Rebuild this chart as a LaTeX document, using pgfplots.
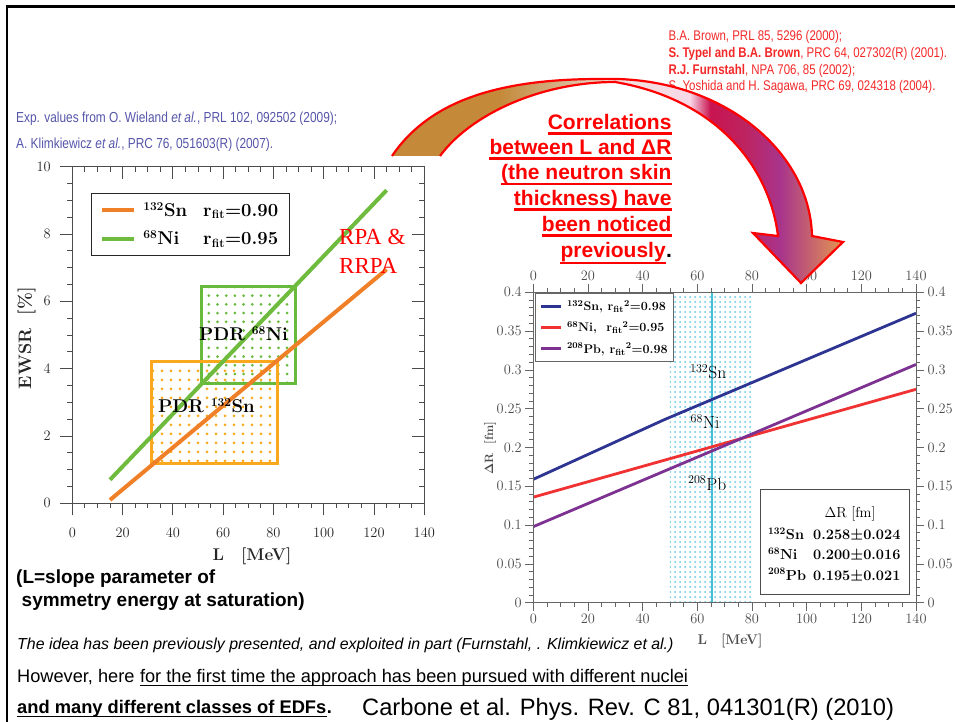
\documentclass[border=0pt]{standalone}
\usepackage{pgfplots}
\pgfplotsset{compat=1.18}
\usepackage{fontspec}
\usetikzlibrary{patterns.meta}
\newfontfamily\arial{Liberation Sans}
\newfontfamily\arialn[FakeStretch=0.82]{Liberation Sans}
\newfontfamily\timesf{Liberation Serif}

\definecolor{lnOrange}{RGB}{240,128,40}
\definecolor{lnGreen}{RGB}{110,187,62}
\definecolor{bxOrange}{RGB}{250,168,30}
\definecolor{bxGreen}{RGB}{104,186,60}
\definecolor{lnNavy}{RGB}{45,52,145}
\definecolor{lnRed}{RGB}{240,50,50}
\definecolor{lnPurple}{RGB}{125,50,145}
\definecolor{cyDot}{RGB}{100,200,232}
\definecolor{cyLine}{RGB}{70,190,215}
\definecolor{refBlue}{RGB}{85,85,170}
\definecolor{refRed}{RGB}{245,40,40}
\definecolor{arrB}{RGB}{196,138,58}
\definecolor{arrT}{RGB}{214,180,140}
\definecolor{arrW}{RGB}{240,226,222}
\definecolor{arrP}{RGB}{248,215,230}
\definecolor{arrC}{RGB}{200,20,80}
\definecolor{arrC2}{RGB}{190,35,95}
\definecolor{arrV}{RGB}{168,52,140}
\definecolor{arrO}{RGB}{228,150,80}
\pgfdeclarehorizontalshading{arrowshade}{100bp}{color(0bp)=(arrB); color(25bp)=(arrB); color(37bp)=(arrB); color(44bp)=(arrT); color(50bp)=(arrW); color(58bp)=(arrP); color(60.3bp)=(arrC); color(64bp)=(arrC2); color(68bp)=(arrV); color(75bp)=(arrO); color(100bp)=(arrO)}

\begin{document}
\begin{tikzpicture}
\path[use as bounding box, fill=white] (0pt,0pt) rectangle (955pt,-722pt);

% ---------------- left chart ----------------
\begin{axis}[
  at={(72.3pt,-503.3pt)}, anchor=south west, scale only axis,
  width=352pt, height=336.6pt,
  xmin=0, xmax=140, ymin=0, ymax=10,
  xtick={0,20,...,140}, ytick={0,2,...,10},
  minor x tick num=3, minor y tick num=3,
  tick align=outside, xtick pos=left, ytick pos=left,
  major tick length=12pt, minor tick length=5pt,
  axis line style={draw=black!70, line width=0.9pt},
  tick style={black!70, line width=0.9pt},
  tick label style={font=\fontsize{14.5}{15}\selectfont, text=black!85},
  xticklabel style={yshift=-9pt},
  yticklabel style={xshift=-6pt},
  legend style={at={(axis description cs:0.052,0.923)}, anchor=north west,
     draw=black!85, line width=1.3pt, fill=white, inner xsep=9pt, inner ysep=7pt,
     row sep=9pt, font=\bfseries\boldmath\fontsize{18.5}{18.5}\selectfont},
  legend cell align=left,
  legend image code/.code={\draw[#1] (0pt,0pt) -- (32pt,0pt);},
]
\addplot[draw=bxGreen, line width=3pt, line join=miter, pattern={Dots[distance=8.7pt,radius=1.5pt]}, pattern color=bxGreen, forget plot]
  coordinates {(51.2,3.55) (88.6,3.55) (88.6,6.45) (51.2,6.45)} -- cycle;
\addplot[draw=bxOrange, line width=3pt, line join=miter, pattern={Dots[distance=9pt,radius=1.5pt]}, pattern color=bxOrange, forget plot]
  coordinates {(31.6,1.17) (81.7,1.17) (81.7,4.2) (31.6,4.2)} -- cycle;
\addplot[lnOrange, line width=4pt] coordinates {(15,0.1) (125,6.95)};
\addlegendentry{\hspace{5pt}\makebox[60pt][l]{$^{\mathbf{132}}$Sn}r$_{\mathbf{fit}}$=0.90}
\addplot[lnGreen, line width=4pt] coordinates {(15,0.7) (125,9.3)};
\addlegendentry{\hspace{5pt}\makebox[60pt][l]{$^{\mathbf{68}}$Ni}r$_{\mathbf{fit}}$=0.95}
\end{axis}
\begin{axis}[
  at={(72.3pt,-503.3pt)}, anchor=south west, scale only axis,
  width=352pt, height=336.6pt,
  xmin=0, xmax=140, ymin=0, ymax=10,
  xtick={0,20,...,140}, ytick={0,2,...,10},
  minor x tick num=3, minor y tick num=3,
  tick align=inside, xtick pos=right, ytick pos=right,
  xticklabels={}, yticklabels={},
  major tick length=12pt, minor tick length=5pt,
  axis line style={draw=black!70, line width=0.9pt},
  tick style={black!70, line width=0.9pt},
]
\addplot[draw=none, forget plot] coordinates {(0,0)};
\end{axis}

% ---------------- right chart ----------------
\begin{axis}[
  at={(533.3pt,-602.7pt)}, anchor=south west, scale only axis,
  width=382.7pt, height=310.4pt,
  xmin=0, xmax=140, ymin=0, ymax=0.4,
  xtick={0,20,...,140}, ytick={0,0.05,0.1,0.15,0.2,0.25,0.3,0.35,0.4},
  scaled y ticks=false,
  yticklabel style={/pgf/number format/fixed, /pgf/number format/precision=2},
  minor x tick num=3, minor y tick num=4,
  tick align=outside, xtick pos=left, ytick pos=left,
  major tick length=8pt, minor tick length=4pt,
  axis line style={draw=black!60, line width=0.8pt},
  tick style={black!60, line width=0.8pt},
  tick label style={font=\fontsize{13.5}{14}\selectfont, text=black!70},
  legend style={at={(axis description cs:0.004,0.997)}, anchor=north west,
     draw=black!60, line width=0.8pt, fill=white, inner xsep=4pt, inner ysep=5pt,
     row sep=5.5pt, font=\bfseries\boldmath\fontsize{12.5}{12.5}\selectfont},
  legend cell align=left,
  legend image code/.code={\draw[#1] (0pt,0pt) -- (20pt,0pt);},
]
\addplot[draw=none, pattern={Dots[distance=5pt,radius=1pt]}, pattern color=cyDot, forget plot]
  coordinates {(50,0) (80.5,0) (80.5,0.4) (50,0.4)} -- cycle;
\addplot[cyLine, line width=1.8pt, forget plot] coordinates {(65.5,0) (65.5,0.4)};
\addplot[lnNavy, line width=2.8pt] coordinates {(0,0.159) (48,0.236) (140,0.373)};
\addlegendentry{\hspace{3pt}$^{132}$Sn, r$_{\mathbf{fit}}{}^{2}$=0.98}
\addplot[lnRed, line width=2.8pt] coordinates {(0,0.136) (140,0.275)};
\addlegendentry{\hspace{3pt}$^{68}$Ni,\ \ r$_{\mathbf{fit}}{}^{2}$=0.95}
\addplot[lnPurple, line width=2.8pt] coordinates {(0,0.098) (140,0.307)};
\addlegendentry{\hspace{3pt}$^{208}$Pb, r$_{\mathbf{fit}}{}^{2}$=0.98}
\end{axis}
\begin{axis}[
  at={(533.3pt,-602.7pt)}, anchor=south west, scale only axis,
  width=382.7pt, height=310.4pt,
  xmin=0, xmax=140, ymin=0, ymax=0.4,
  xtick={0,20,...,140}, ytick={0,0.05,0.1,0.15,0.2,0.25,0.3,0.35,0.4},
  scaled y ticks=false,
  yticklabel style={/pgf/number format/fixed, /pgf/number format/precision=2},
  minor x tick num=3, minor y tick num=4,
  tick align=outside, xtick pos=right, ytick pos=right,
  xticklabel pos=right, yticklabel pos=right,
  major tick length=8pt, minor tick length=4pt,
  axis line style={draw=black!60, line width=0.8pt},
  tick style={black!60, line width=0.8pt},
  tick label style={font=\fontsize{13.5}{14}\selectfont, text=black!70},
]
\addplot[draw=none, forget plot] coordinates {(0,0)};
\end{axis}

% ---------------- annotations (pixel coordinates) ----------------
\begin{scope}[x=1pt, y=-1pt, every node/.style={inner sep=0pt}]
% frame
\draw[black, line width=2.6pt] (7,722) -- (7,6.7) -- (955,6.7);

% axis labels, left chart
\node[anchor=base, font=\bfseries\fontsize{17}{17}\selectfont, text=black!85] at (252,560) {L\quad[MeV]};
\node[rotate=90, anchor=base, font=\bfseries\fontsize{18}{18}\selectfont, text=black!85] at (31,338) {EWSR\ \ [\%]};
% axis labels, right chart
\node[anchor=base, font=\bfseries\fontsize{14}{14}\selectfont, text=black!70] at (730,644) {L\quad[MeV]};
\node[rotate=90, anchor=base, font=\bfseries\boldmath\fontsize{12}{12}\selectfont, text=black!70] at (493,448) {$\Delta$R\ \ [fm]};

% left chart annotations
\node[anchor=base west, font=\timesf\fontsize{23}{23}\selectfont, text=red] at (339,244) {RPA \&};
\node[anchor=base west, font=\timesf\fontsize{23}{23}\selectfont, text=red] at (339,273.3) {RRPA};
\node[anchor=base west, font=\bfseries\boldmath\fontsize{18.5}{18.5}\selectfont] at (199,340.7) {PDR $^{\mathbf{68}}$Ni};
\node[anchor=base west, font=\bfseries\boldmath\fontsize{18.5}{18.5}\selectfont] at (158,412.3) {PDR $^{\mathbf{132}}$Sn};

% right chart annotations
\node[anchor=base west, font=\fontsize{17.5}{17.5}\selectfont] at (690,378.3) {$^{132}$Sn};
\node[anchor=base west, font=\fontsize{17.5}{17.5}\selectfont] at (690.5,428.3) {$^{68}$Ni};
\node[anchor=base west, font=\fontsize{17.5}{17.5}\selectfont] at (688,490) {$^{208}$Pb};
\draw[black!70, line width=1pt, fill=white] (760.7,489.3) rectangle (909.3,594);
\node[anchor=base, font=\fontsize{14.5}{14.5}\selectfont] at (850,517) {$\Delta$R [fm]};
\node[anchor=base west, font=\bfseries\boldmath\fontsize{14.5}{14.5}\selectfont] at (768,539.5) {$^{132}$Sn};
\node[anchor=base west, font=\bfseries\boldmath\fontsize{14.5}{14.5}\selectfont] at (768,559.5) {$^{68}$Ni};
\node[anchor=base west, font=\bfseries\boldmath\fontsize{14.5}{14.5}\selectfont] at (768,580) {$^{208}$Pb};
\node[anchor=base west, font=\bfseries\boldmath\fontsize{14.5}{14.5}\selectfont] at (813,539.5) {0.258$\pm$0.024};
\node[anchor=base west, font=\bfseries\boldmath\fontsize{14.5}{14.5}\selectfont] at (813,559.5) {0.200$\pm$0.016};
\node[anchor=base west, font=\bfseries\boldmath\fontsize{14.5}{14.5}\selectfont] at (813,580) {0.195$\pm$0.021};

% references (blue)
\node[anchor=base west, font=\arialn\fontsize{14.5}{14.5}\selectfont, text=refBlue] at (16,122.7) {Exp. values from O. Wieland \textit{et al.}, PRL 102, 092502 (2009);};
\node[anchor=base west, font=\arialn\fontsize{14.5}{14.5}\selectfont, text=refBlue] at (16,148.3) {A. Klimkiewicz \textit{et al.}, PRC 76, 051603(R) (2007).};
% references (red)
\node[anchor=base west, font=\arialn\fontsize{14}{14}\selectfont, text=refRed] at (668.3,40.7) {B.A. Brown, PRL 85, 5296 (2000);};
\node[anchor=base west, font=\arialn\fontsize{14}{14}\selectfont, text=refRed] at (668.3,57.3) {\textbf{S. Typel and B.A. Brown}, PRC 64, 027302(R) (2001).};
\node[anchor=base west, font=\arialn\fontsize{14}{14}\selectfont, text=refRed] at (668.3,74.3) {\textbf{R.J. Furnstahl}, NPA 706, 85 (2002);};
\node[anchor=base west, font=\arialn\fontsize{14}{14}\selectfont, text=refRed] at (668.3,91) {S. Yoshida and H. Sagawa, PRC 69, 024318 (2004).};

% curved arrow
\def\arrowpath{(392,156) .. controls (430,100) and (500,79) .. (600,79)
   .. controls (720,75) and (810,150) .. (812,236) -- (843,242) -- (801,283) -- (753,233) -- (778,236)
   .. controls (770,170) and (720,100) .. (615,82)
   .. controls (540,82) and (470,115) .. (440,156)}
\shade[shading=arrowshade] \arrowpath -- cycle;
\draw[red, line width=2.2pt, line join=miter] \arrowpath;

% red statement
\begin{scope}[every node/.append style={font=\arial\bfseries\fontsize{21}{21}\selectfont, text=red, anchor=base east}]
\node (c1) at (671.7,129.5) {Correlations};
\node (c2) at (671.7,154.5) {between L and ΔR};
\node (c3) at (671.7,180) {(the neutron skin};
\node (c4) at (671.7,205.5) {thickness) have};
\node (c5) at (671.7,231.5) {been noticed};
\node (c6) at (665.9,257) {previously};
\end{scope}
\node[anchor=base west, font=\arial\bfseries\fontsize{21}{21}\selectfont, text=black] at (c6.base east) {.};
\foreach \n in {c1,c2,c3,c4,c5}{
  \draw[red, line width=2.3pt] ([yshift=-4pt]\n.base west) -- ([yshift=-4pt]\n.base east);
}
\draw[red, line width=2.3pt] ([yshift=-6pt]c6.base west) -- ([yshift=-6pt]c6.base east);

% bottom-left texts
\node[anchor=base west, font=\arial\bfseries\fontsize{19}{19}\selectfont] at (16,583.5) {(L=slope parameter of};
\node[anchor=base west, font=\arial\bfseries\fontsize{19}{19}\selectfont] at (21.5,606.5) {symmetry energy at saturation)};
\node[anchor=base west, font=\arial\itshape\fontsize{15.9}{15.9}\selectfont] at (17,649.5) {The idea has been previously presented, and exploited in part (Furnstahl, . Klimkiewicz et al.)};
\node[anchor=base west, font=\arial\fontsize{18.2}{18.2}\selectfont] (h1) at (17,682.5) {However, here};
\node[anchor=base west, font=\arial\fontsize{18.2}{18.2}\selectfont] (h2) at ([xshift=5.1pt]h1.base east) {for the first time the approach has been pursued with different nuclei};
\draw[black, line width=1.4pt] ([yshift=-3pt]h2.base west) -- ([yshift=-3pt]h2.base east);
\node[anchor=base west, font=\arial\bfseries\fontsize{18.3}{18.3}\selectfont] (h3) at (17,713.5) {and many different classes of EDFs};
\draw[black, line width=1.4pt] ([yshift=-3pt]h3.base west) -- ([yshift=-3pt]h3.base east);
\node[anchor=base west, font=\arial\bfseries\fontsize{18.3}{18.3}\selectfont] at (h3.base east) {.};
\node[anchor=base west, font=\arial\fontsize{23.7}{23.7}\selectfont] at (362,715) {Carbone et al. Phys. Rev. C 81, 041301(R) (2010)};
\end{scope}
\end{tikzpicture}
\end{document}
